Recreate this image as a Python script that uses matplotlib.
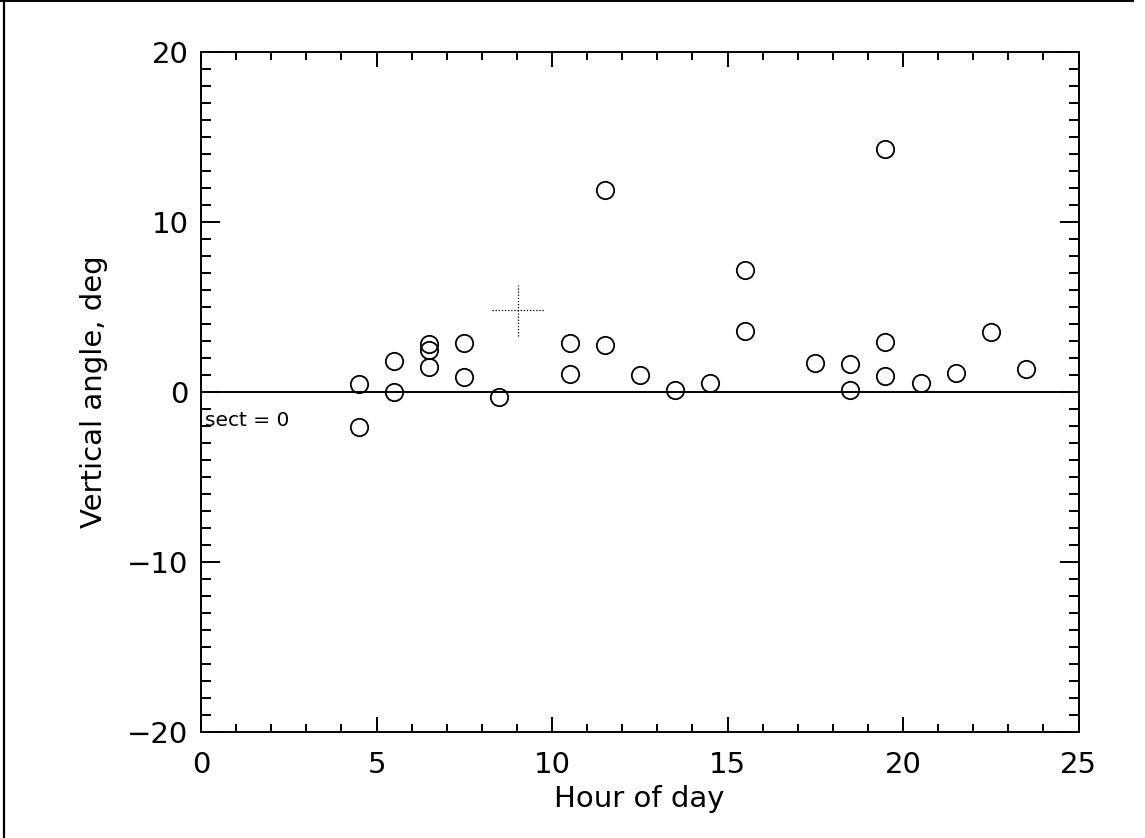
import matplotlib
matplotlib.use("Agg")
import matplotlib.pyplot as plt
from matplotlib.lines import Line2D
from matplotlib.ticker import MultipleLocator

# Data
hours = [4.5, 4.5, 5.5, 5.5, 6.5, 6.5, 6.5, 7.5, 7.5, 8.5,
         10.5, 10.5, 11.5, 11.5, 12.5, 13.5, 14.5, 15.5, 15.5,
         17.5, 18.5, 18.5, 19.5, 19.5, 19.5, 20.5, 21.5, 22.5, 23.5]
angles = [0.45, -2.08, 1.84, 0.02, 2.82, 2.47, 1.49, 2.86, 0.86, -0.27,
          2.90, 1.06, 11.88, 2.76, 0.98, 0.12, 0.51, 7.18, 3.59,
          1.73, 1.63, 0.12, 14.30, 2.92, 0.94, 0.51, 1.14, 3.51, 1.33]

mean_x = [9.03]
mean_y = [4.8]
err_x = [0.73]
err_y = [1.5]

x_ticks = [0, 5, 10, 15, 20, 25]
y_ticks = [-20, -10, 0, 10, 20]

W, H = 1145, 838
fig = plt.figure(figsize=(W / 100, H / 100), dpi=100)
plt.rcParams['font.family'] = ['DejaVu Sans']

ax = fig.add_axes([201 / W, 1 - 732 / H, (1078.5 - 201) / W, (732 - 52) / H])

ax.plot(hours, angles, linestyle='none', marker='o', markersize=12.5,
        markerfacecolor='none', markeredgecolor='black', markeredgewidth=1.3)

ax.errorbar(mean_x, mean_y, xerr=err_x, yerr=err_y, fmt='none',
            ecolor='black', elinewidth=0.9, capsize=0)
for coll in ax.collections:
    coll.set_linestyle((0, (1, 1.5)))

ax.axhline(0, color='black', linewidth=1.4)

ax.text(0.11, -1.65, 'sect = 0', fontsize=14.5, va='center', ha='left')

ax.set_xlim(0, 25)
ax.set_ylim(-20, 20)
ax.set_xticks(x_ticks)
ax.set_yticks(y_ticks)
ax.set_xticklabels([str(t) for t in x_ticks])
ax.set_yticklabels([str(t).replace('-', '\u2212') for t in y_ticks])
ax.xaxis.set_minor_locator(MultipleLocator(1))
ax.yaxis.set_minor_locator(MultipleLocator(1))

ax.tick_params(axis='both', which='both', direction='in', top=True, right=True,
               labelsize=21, width=1.4, colors='black')
ax.tick_params(axis='x', which='major', length=11, pad=14)
ax.tick_params(axis='x', which='minor', length=5.8)
ax.tick_params(axis='y', which='major', length=14, pad=9)
ax.tick_params(axis='y', which='minor', length=7.5)

for s in ax.spines.values():
    s.set_linewidth(1.4)
    s.set_color('black')

ax.set_xlabel('Hour of day', fontsize=21, labelpad=4)
ax.set_ylabel('Vertical angle, deg', fontsize=21, labelpad=14)

# figure frame lines (left and top)
fig.add_artist(Line2D([3.5 / W, 3.5 / W], [0, 1], transform=fig.transFigure,
                      color='black', linewidth=1.6))
fig.add_artist(Line2D([0, 1133 / W], [1 - 0.8 / H, 1 - 0.8 / H], transform=fig.transFigure,
                      color='black', linewidth=1.4))

fig.savefig('out.png', dpi=100, facecolor='white')
